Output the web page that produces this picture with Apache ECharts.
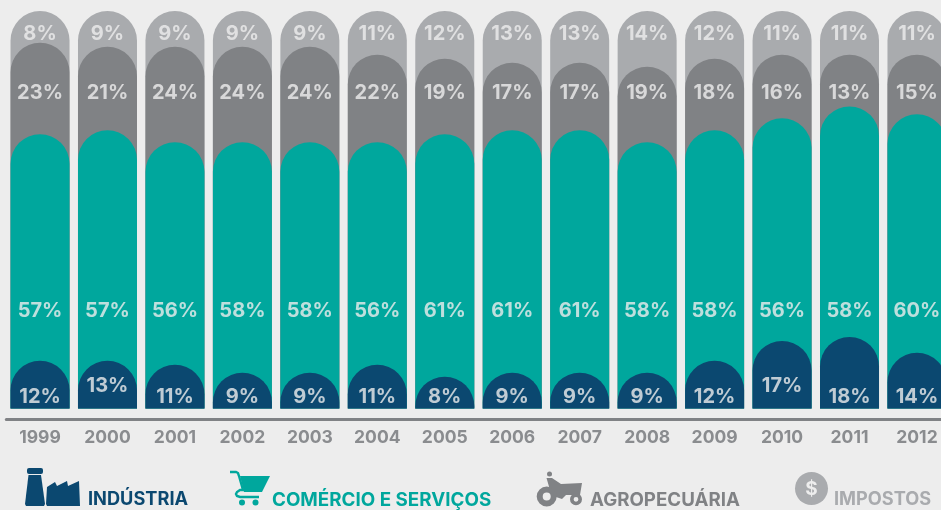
<!DOCTYPE html>
<html><head><meta charset="utf-8">
<style>html,body{margin:0;padding:0;background:#ededed;overflow:hidden}#c{width:941px;height:510px}</style>
<script src="https://cdn.jsdelivr.net/npm/echarts@6/dist/echarts.min.js"></script>
</head><body><div id="c"></div>
<script>
const years=['1999','2000','2001','2002','2003','2004','2005','2006','2007','2008','2009','2010','2011','2012'];
const industria=[12,13,11,9,9,11,8,9,9,9,12,17,18,14];
// the 2000 column is printed 13% but drawn to the same height as 12%
const industriaAltura=[12,12,11,9,9,11,8,9,9,9,12,17,18,14];
const comercio=[57,57,56,58,58,56,61,61,61,58,58,56,58,60];
const agro=[23,21,24,24,24,22,19,17,17,19,18,16,13,15];
const impostos=[8,9,9,9,9,11,12,13,13,14,12,11,11,11];

const NAVY='#0b4870',TEAL='#00a79d',DARK='#808285',LIGHT='#a9abae',BG='#ededed';
const FONT='Inter';
const sum=(...a)=>years.map((_,i)=>a.reduce((s,x)=>s+x[i],0));
const bar=(name,color,vals)=>({name,type:'bar',data:vals,barWidth:59,barGap:'-100%',
  itemStyle:{color,borderRadius:[30,30,0,0]},silent:true});
const row=(name,vals,yOf)=>({name:name+' rótulo',type:'scatter',symbolSize:1,itemStyle:{color:'transparent'},z:5,silent:true,
  data:vals.map((v,i)=>[i,yOf(v)]),
  label:{show:true,position:'inside',color:BG,fontFamily:FONT,fontWeight:700,fontSize:20,
    formatter:p=>vals[p.dataIndex]+'%'}});
const legendText=(x,text,fill,size)=>({type:'text',x,y:500,style:{text,fill,font:`700 ${size}px ${FONT}`,textVerticalAlign:'middle'}});

const graphic=[
  {type:'rect',shape:{x:27,y:468,width:16,height:6,r:2},style:{fill:NAVY}},
  {type:'polygon',shape:{points:[[28.5,475],[41,475],[45,504],[44,506],[26,506],[25,504]]},style:{fill:NAVY}},
  {type:'polygon',shape:{points:[[47,487],[55,482],[57,486],[67,481],[68,486],[79,481],[80,506],[47,506],[46,504]]},style:{fill:NAVY}},
  legendText(88,'INDÚSTRIA',NAVY,18.2),
  {type:'polygon',shape:{points:[[240,476],[270,476],[262,492],[244,492]]},style:{fill:TEAL}},
  {type:'polyline',shape:{points:[[230,472],[236,472],[238,473],[239,476],[243,490],[240,490],[237,492],[236,494],[237,496],[240,497],[259,497]]},style:{fill:'none',stroke:TEAL,lineWidth:2.4}},
  {type:'circle',shape:{cx:242,cy:502.5,r:3},style:{fill:TEAL}},
  {type:'circle',shape:{cx:255.5,cy:502.5,r:3},style:{fill:TEAL}},
  legendText(272,'COMÉRCIO E SERVIÇOS',TEAL,18.8),
  {type:'circle',shape:{cx:549.5,cy:474,r:2.5},style:{fill:DARK}},
  {type:'polygon',shape:{points:[[546.5,478],[552,478],[561,484],[582,483],[580,495],[566,495],[562,499],[556,497],[550,490]]},style:{fill:DARK}},
  {type:'circle',shape:{cx:546.7,cy:496.5,r:7},style:{fill:'none',stroke:DARK,lineWidth:6}},
  {type:'circle',shape:{cx:576,cy:499.3,r:4.2},style:{fill:'none',stroke:DARK,lineWidth:3.6}},
  legendText(590,'AGROPECUÁRIA',DARK,18.7),
  {type:'circle',shape:{cx:811.5,cy:488.5,r:16.5},style:{fill:LIGHT}},
  {type:'text',x:811.5,y:489,style:{text:'$',fill:BG,font:`700 19px ${FONT}`,textAlign:'center',textVerticalAlign:'middle'}},
  legendText(834,'IMPOSTOS',LIGHT,18.2)
];

const chart=echarts.init(document.getElementById('c'),null,{renderer:'canvas'});
chart.setOption({
  animation:false,backgroundColor:BG,
  grid:{left:6.3,top:11,width:944.4,height:397.5,containLabel:false,outerBoundsMode:'none'},
  xAxis:{type:'category',data:years,offset:11,axisTick:{show:false},
    axisLine:{onZero:false,lineStyle:{color:DARK,width:3}},
    axisLabel:{color:'#8a8c8f',fontFamily:FONT,fontWeight:700,fontSize:17.5,margin:9}},
  yAxis:{type:'value',min:0,max:100,show:false},
  tooltip:{show:false},
  series:[
    bar('Impostos',LIGHT,sum(industria,comercio,agro,impostos)),
    bar('Agropecuária',DARK,sum(industria,comercio,agro)),
    bar('Comércio e Serviços',TEAL,sum(industria,comercio)),
    bar('Indústria',NAVY,industriaAltura),
    row('Impostos',impostos,()=>94.1),
    row('Agropecuária',agro,()=>79.4),
    row('Comércio',comercio,()=>24.6),
    row('Indústria',industria,v=>(v===13||v===17)?5.7:2.8)
  ],
  graphic:{elements:graphic}
});
</script></body></html>
